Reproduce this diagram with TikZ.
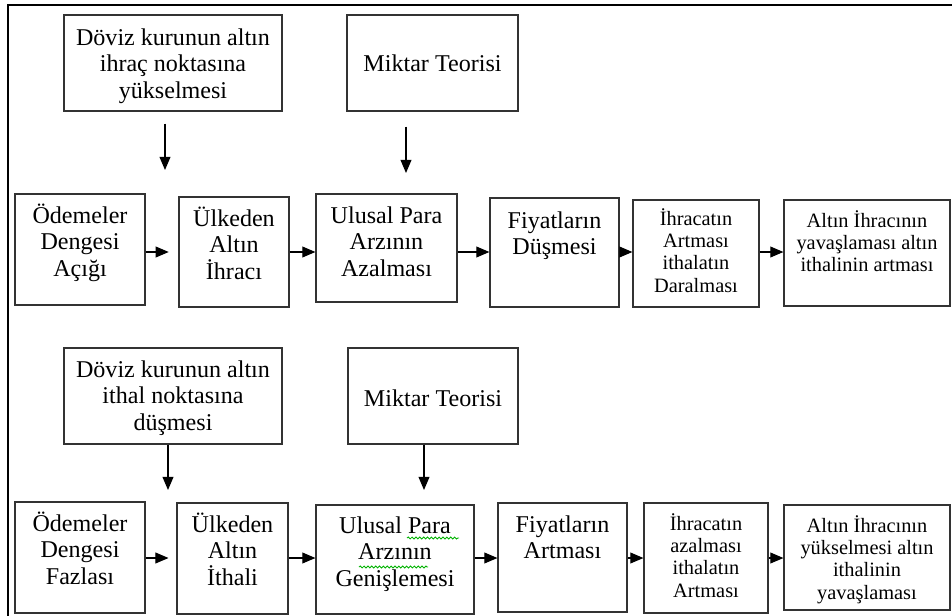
\documentclass[tikz,border=0pt]{standalone}
\usepackage{fontspec}
\setmainfont{Liberation Serif}
\usetikzlibrary{arrows.meta,decorations.pathmorphing}

\newcommand{\kutu}[4]{\parbox[c][#2][t]{#1}{\centering\rule{0pt}{#3}#4}}

\tikzset{
  kutu/.style={draw=black!80, line width=0.65pt, inner sep=0pt},
  buyuk/.style={kutu, font=\fontsize{13.7}{15.3}\selectfont},
  kucuk/.style={kutu, font=\fontsize{11.6}{12.8}\selectfont},
  ok/.style={-{Triangle[length=7.5pt,width=6.2pt]}, line width=0.7pt},
  dalga/.style={draw=green!70!black, line width=0.5pt,
    decorate, decoration={snake, segment length=2.2pt, amplitude=0.55pt}}
}

\begin{document}
\begin{tikzpicture}[x=0.02cm, y=-0.02cm]
  \useasboundingbox (0,0) rectangle (952,615);
  \clip (0,0) rectangle (952,615);
  \draw[line width=1.3pt] (8,650) -- (8,5) -- (980,5);

  \node[buyuk] (d1) at (173,63) {\kutu{4.36cm}{1.92cm}{0.6cm}{D\"oviz kurunun alt\i n\\ ihra\c{c} noktas\i na\\ y\"ukselmesi}};
  \node[buyuk] (m1) at (432.5,63) {\kutu{3.42cm}{1.92cm}{1.14cm}{Miktar Teorisi}};
  \node[buyuk] (o1) at (80,249.5) {\kutu{2.6cm}{2.22cm}{0.58cm}{\"Odemeler\\ Dengesi\\ A\c{c}\i\u{g}\i}};
  \node[buyuk] (u1) at (234,252) {\kutu{2.2cm}{2.2cm}{0.58cm}{\"Ulkeden\\ Alt\i n\\ \.{I}hrac\i}};
  \node[buyuk] (p1) at (386.5,248) {\kutu{2.82cm}{2.16cm}{0.58cm}{Ulusal Para\\ Arz\i n\i n\\ Azalmas\i}};
  \node[buyuk] (f1) at (554.5,252.5) {\kutu{2.58cm}{2.18cm}{0.6cm}{Fiyatlar\i n\\ D\"u\c{s}mesi}};
  \node[kucuk] (i1) at (696,253.5) {\kutu{2.52cm}{2.14cm}{0.5cm}{\.{I}hracat\i n\\ Artmas\i\\ ithalat\i n\\ Daralmas\i}};
  \node[kucuk] (a1) at (867,253) {\kutu{3.32cm}{2.12cm}{0.54cm}{Alt\i n \.{I}hrac\i n\i n\\ yava\c{s}lamas\i\ alt\i n\\ ithalinin artmas\i}};

  \node[buyuk] (d2) at (173,396) {\kutu{4.36cm}{1.92cm}{0.58cm}{D\"oviz kurunun alt\i n\\ ithal noktas\i na\\ d\"u\c{s}mesi}};
  \node[buyuk] (m2) at (433,396) {\kutu{3.4cm}{1.92cm}{1.16cm}{Miktar Teorisi}};
  \node[buyuk] (o2) at (80,557.5) {\kutu{2.6cm}{2.22cm}{0.58cm}{\"Odemeler\\ Dengesi\\ Fazlas\i}};
  \node[buyuk] (u2) at (232.5,558.5) {\kutu{2.22cm}{2.22cm}{0.58cm}{\"Ulkeden\\ Alt\i n\\ \.{I}thali}};
  \node[buyuk] (p2) at (395,559.5) {\kutu{3.16cm}{2.18cm}{0.56cm}{Ulusal Para\\ Arz\i n\i n\\ Geni\c{s}lemesi}};
  \node[buyuk] (f2) at (562.5,557.5) {\kutu{2.58cm}{2.18cm}{0.58cm}{Fiyatlar\i n\\ Artmas\i}};
  \node[kucuk] (i2) at (706,558) {\kutu{2.48cm}{2.2cm}{0.54cm}{\.{I}hracat\i n\\ azalmas\i\\ ithalat\i n\\ Artmas\i}};
  \node[kucuk] (a2) at (867,557.5) {\kutu{3.32cm}{2.1cm}{0.54cm}{Alt\i n \.{I}hrac\i n\i n\\ y\"ukselmesi alt\i n\\ ithalinin\\ yava\c{s}lamas\i}};

  \coordinate (r1) at (0,252);
  \coordinate (r2) at (0,558);
  \coordinate (t1) at (165,170);
  \coordinate (t2) at (406,173);
  \coordinate (t3) at (168,490);
  \coordinate (t4) at (424,490);

  \draw[ok] (d1.south -| t1) ++(0,12) -- (t1);
  \draw[ok] (m1.south -| t2) ++(0,15) -- (t2);
  \draw[ok] (d2.south -| t3) -- (t3);
  \draw[ok] (m2.south -| t4) -- (t4);

  \draw[ok, shorten >=5.5pt] (o1.east |- r1) -- (u1.west |- r1);
  \draw[ok] (u1.east |- r1) -- (p1.west |- r1);
  \draw[ok] (p1.east |- r1) -- (f1.west |- r1);
  \draw[ok] (f1.east |- r1) -- (i1.west |- r1);
  \draw[ok] (i1.east |- r1) -- (a1.west |- r1);

  \draw[ok, shorten >=4.5pt] (o2.east |- r2) -- (u2.west |- r2);
  \draw[ok] (u2.east |- r2) -- (p2.west |- r2);
  \draw[ok] (p2.east |- r2) -- (f2.west |- r2);
  \draw[ok] (f2.east |- r2) -- (i2.west |- r2);
  \draw[ok] (i2.east |- r2) -- (a2.west |- r2);

  \path[dalga, shift={(p2)}] (12,-21.5) -- (64,-21.5);
  \path[dalga, shift={(p2)}] (-36,7.5) -- (33,7.5);
\end{tikzpicture}
\end{document}
